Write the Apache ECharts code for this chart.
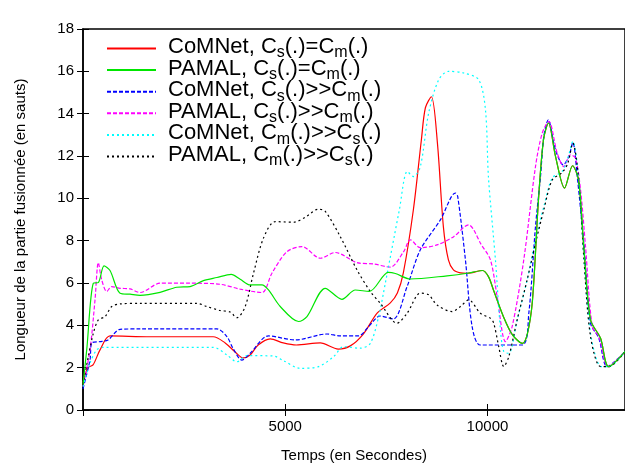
<!DOCTYPE html>
<html>
<head>
<meta charset="utf-8">
<script src="https://cdn.jsdelivr.net/npm/echarts@6/dist/echarts.min.js"></script>
<style>
  html, body { margin: 0; padding: 0; background: #fff; }
  #chart { width: 625px; height: 471px; }
</style>
</head>
<body>
<div id="chart"></div>
<script>
// [temps (s), longueur (sauts)]
const comnetEqual = [[0,1.3],[124,2.0],[248,2.13],[421,2.84],[668,3.5],[1658,3.46],[3218,3.46],[3515,3.17],
  [3762,2.74],[3960,2.46],[4133,2.6],[4331,3.07],[4628,3.36],[4950,3.17],[5272,3.07],[5866,3.17],[6311,2.88],
  [6608,3.03],[6930,3.59],[7277,4.59],[7598,5.06],[7772,5.53],[7920,6.48],[8168,9.46],[8366,12.77],[8465,14.28],
  [8613,14.8],[8762,12.62],[8910,8.65],[9034,7.09],[9158,6.62],[9331,6.48],[9504,6.46],[9875,6.59],[10024,6.3],
  [10148,5.67],[10395,4.41],[10618,3.55],[10865,3.15],[10989,3.62],[11113,5.2],[11261,9.93],[11385,12.77],
  [11509,13.56],[11682,11.98],[11905,10.48],[12103,11.54],[12251,10.87],[12375,7.88],[12548,4.26],[12796,3.39],
  [12994,2.05],[13400,2.76]]
const pamalEqual = [[0,1.2],[92,2.84],[255,5.99],[379,6.02],[520,6.81],[668,6.59],[916,5.52],[1163,5.47],
  [1411,5.42],[1906,5.56],[2319,5.8],[2648,5.83],[2977,6.11],[3309,6.26],[3663,6.41],[3886,6.18],[4133,5.91],
  [4423,5.91],[4586,5.67],[4876,4.89],[5329,4.18],[5537,4.41],[5990,5.75],[6403,5.23],[6732,5.67],[7078,5.6],
  [7549,6.5],[7722,6.45],[8093,6.19],[9001,6.34],[9504,6.46],[9875,6.59],[10024,6.3],[10148,5.67],[10395,4.41],
  [10618,3.55],[10865,3.15],[10989,3.62],[11113,5.2],[11261,9.93],[11385,12.77],[11509,13.56],[11682,11.98],
  [11905,10.48],[12103,11.54],[12251,10.87],[12375,7.88],[12548,4.26],[12796,3.39],[12994,2.05],[13400,2.76]]
const comnetSrcHigh = [[0,1.0],[173,2.36],[223,3.18],[421,3.23],[619,3.31],[916,3.81],[1411,3.83],[3309,3.83],
  [3557,3.47],[3713,2.9],[3928,2.36],[4133,2.68],[4586,3.5],[5247,3.31],[6032,3.59],[6361,3.5],[6814,3.5],
  [7061,3.94],[7351,4.44],[7673,4.3],[8012,5.83],[8341,7.57],[8836,8.98],[9207,10.25],[9264,10.09],[9455,7.09],
  [9621,3.94],[9826,3.07],[10857,3.07],[11022,4.57],[11187,8.67],[11311,11.03],[11393,12.92],[11502,13.71],
  [11682,12.29],[11873,11.58],[12011,11.98],[12110,12.64],[12219,11.03],[12382,7.88],[12548,4.1],[12753,3.39],
  [12961,2.05],[13400,2.76]]
const pamalSrcHigh = [[0,1.1],[173,2.84],[297,5.2],[379,6.96],[463,6.15],[587,5.6],[710,5.83],[916,5.75],
  [1163,5.72],[1411,5.55],[1906,5.99],[2648,5.99],[3391,5.94],[3886,5.71],[4423,5.55],[4670,6.46],[5042,7.48],
  [5413,7.72],[5866,7.17],[6237,7.44],[6774,6.96],[7185,6.9],[7598,6.75],[7927,7.48],[8093,8.04],[8341,7.67],
  [8754,7.8],[9165,8.19],[9536,8.75],[9660,8.51],[9826,7.88],[10073,7.09],[10239,5.36],[10445,3.23],[10610,3.94],
  [10897,7.09],[11187,11.5],[11353,13.08],[11516,13.63],[11724,12.14],[11888,11.5],[12053,12.06],[12177,11.9],
  [12301,10.4],[12424,7.72],[12590,3.94],[12753,3.47],[12986,2.05],[13400,2.76]]
const comnetMemHigh = [[0,1.1],[173,2.21],[339,2.84],[502,2.96],[3225,2.96],[3557,2.6],[3804,2.28],[4052,2.57],
  [4710,2.55],[4958,2.33],[5371,1.97],[5824,2.05],[6195,2.52],[6443,2.99],[6856,2.92],[7103,3.15],[7309,4.41],
  [7475,6.0],[7822,9.46],[8019,11.27],[8168,11.03],[8341,11.5],[8546,14.03],[8794,15.6],[9041,16.0],[9413,15.92],
  [9784,15.6],[9950,14.18],[10024,11.0],[10197,7.09],[10321,3.78],[10403,2.76],[10527,2.68],[10734,4.26],
  [10981,6.15],[11187,8.04],[11393,9.61],[11600,10.96],[11847,11.27],[11986,11.9],[12110,12.69],[12259,10.87],
  [12382,7.25],[12548,3.62],[12813,2.05],[12994,2.05],[13400,2.76]]
const pamalMemHigh = [[0,1.2],[131,2.52],[255,3.62],[379,4.26],[545,4.41],[710,4.89],[916,5.01],[1411,5.04],
  [2814,5.04],[3062,4.89],[3391,4.7],[3638,4.63],[3804,4.36],[4010,4.89],[4215,6.46],[4462,8.12],[4752,8.9],
  [5205,8.87],[5495,9.11],[5824,9.49],[5990,9.38],[6361,8.19],[6774,6.62],[7103,5.6],[7351,5.04],[7764,4.1],
  [8012,4.57],[8341,5.52],[8546,5.44],[8754,4.96],[9125,4.65],[9331,4.89],[9536,5.2],[9826,4.57],[10073,4.33],
  [10155,4.1],[10279,2.99],[10403,2.05],[10527,2.52],[10734,4.26],[10981,6.15],[11187,7.88],[11393,9.46],
  [11600,10.87],[11847,11.22],[11986,11.66],[12110,12.61],[12259,10.8],[12382,7.2],[12548,3.47],[12796,2.05],
  [12994,2.05],[13400,2.76]]

const seriesNames = [
  'CoMNet, Cs(.)=Cm(.)',
  'PAMAL, Cs(.)=Cm(.)',
  'CoMNet, Cs(.)>>Cm(.)',
  'PAMAL, Cs(.)>>Cm(.)',
  'CoMNet, Cm(.)>>Cs(.)',
  'PAMAL, Cm(.)>>Cs(.)',
]
const seriesData = [comnetEqual, pamalEqual, comnetSrcHigh, pamalSrcHigh, comnetMemHigh, pamalMemHigh]
const seriesColors = ['#ff0000', '#00e600', '#0000ff', '#ff00ff', '#00ffff', '#000000']
const seriesDash = ['solid', 'solid', [4, 2], [4, 2], [2, 3], [2, 3]]

const yTicks = [0, 2, 4, 6, 8, 10, 12, 14, 16, 18]
const xTicks = [5000, 10000]

const chart = echarts.init(document.getElementById('chart'))
const font = 'Liberation Sans, Arial, sans-serif'

const axisLine = { show: true, lineStyle: { color: '#000', width: 1.5 } }

// "Cs" -> C + subscript s, rest in the normal style
const legendLabel = (name) =>
  name
    .split(/C([sm])/)
    .map((part, i) => (i % 2 === 1 ? '{sub|' + part + '}' : part ? '{n|' + part + 'C}' : ''))
    .join('')
    .replace(/C\}$/, '}')

const option = {
  animation: false,
  backgroundColor: '#fff',
  textStyle: { fontFamily: font },
  grid: { left: 83, right: -1, top: 29, bottom: 61, show: true, borderColor: '#000', borderWidth: 1.5 },
  legend: {
    left: 106,
    top: 36,
    padding: 0,
    orient: 'vertical',
    itemWidth: 49,
    itemHeight: 12,
    itemGap: -3.4,
    data: seriesNames,
    itemStyle: { color: 'transparent', borderColor: 'transparent', borderWidth: 0 },
    formatter: legendLabel,
    textStyle: {
      fontFamily: font,
      fontSize: 22,
      color: '#000',
      padding: [0, 0, 0, 7],
      rich: {
        n: { fontSize: 22, fontFamily: font, lineHeight: 22, verticalAlign: 'top' },
        sub: { fontSize: 16, fontFamily: font, lineHeight: 25, verticalAlign: 'bottom' },
      },
    },
  },
  xAxis: [
    {
      type: 'value',
      min: 0,
      max: 13400,
      interval: 5000,
      name: 'Temps (en Secondes)',
      nameLocation: 'middle',
      nameGap: 38,
      nameTextStyle: { fontSize: 15, color: '#000', fontFamily: font },
      axisLine: axisLine,
      axisTick: { inside: true, length: 6, lineStyle: { color: '#000' } },
      axisLabel: {
        fontSize: 15,
        color: '#000',
        margin: 9,
        showMinLabel: false,
        showMaxLabel: false,
        formatter: (v) => (xTicks.includes(v) ? String(v) : ''),
      },
      splitLine: { show: false },
    },
    {
      type: 'value',
      position: 'top',
      min: 0,
      max: 13400,
      interval: 5000,
      axisLine: { show: false },
      axisTick: { inside: true, length: 6, lineStyle: { color: '#000' } },
      axisLabel: { show: false },
      splitLine: { show: false },
    },
  ],
  yAxis: [
    {
      type: 'value',
      min: 0,
      max: 18,
      interval: 2,
      name: 'Longueur de la partie fusionnée (en sauts)',
      nameLocation: 'middle',
      nameGap: 55,
      nameTextStyle: { fontSize: 15, color: '#000', fontFamily: font },
      axisLine: axisLine,
      axisTick: { inside: true, length: 6, lineStyle: { color: '#000' } },
      axisLabel: {
        fontSize: 15,
        color: '#000',
        margin: 9,
        formatter: (v) => (yTicks.includes(v) ? String(v) : ''),
      },
      splitLine: { show: false },
    },
    {
      type: 'value',
      position: 'right',
      min: 0,
      max: 18,
      interval: 2,
      axisLine: { show: false },
      axisTick: { inside: true, length: 6, lineStyle: { color: '#000' } },
      axisLabel: { show: false },
      splitLine: { show: false },
    },
  ],
  series: seriesNames.map((name, i) => ({
    name: name,
    type: 'line',
    data: seriesData[i],
    showSymbol: false,
    symbol: 'none',
    smooth: 0.3,
    z: i === 1 ? 10 : 2 + i,
    lineStyle: { color: seriesColors[i], width: 1.2, type: seriesDash[i] },
    itemStyle: { color: seriesColors[i] },
  })),
}

chart.setOption(option)
</script>
</body>
</html>
